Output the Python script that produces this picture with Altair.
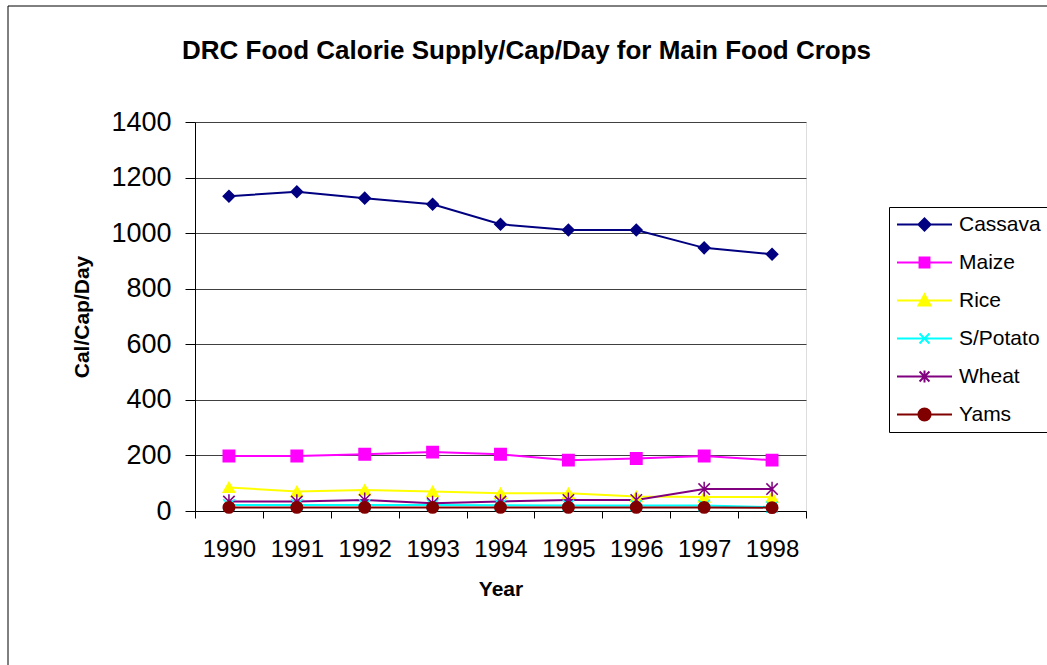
import altair as alt
import pandas as pd

years = ["1990", "1991", "1992", "1993", "1994", "1995", "1996", "1997", "1998"]
crops = ["Cassava", "Maize", "Rice", "S/Potato", "Wheat", "Yams"]
cassava = [1133, 1149, 1126, 1104, 1032, 1011, 1011, 947, 924]
maize = [198, 198, 204, 212, 204, 183, 189, 198, 183]
rice = [85, 70, 76, 70, 64, 64, 52, 50, 50]
s_potato = [22, 22, 22, 22, 21, 20, 20, 20, 14]
wheat = [34, 34, 40, 28, 34, 40, 40, 79, 79]
yams = [13, 13, 13, 13, 13, 13, 13, 13, 12]
colors = ["#000080", "#FF00FF", "#FFFF00", "#00FFFF", "#800080", "#800000"]

series = [cassava, maize, rice, s_potato, wheat, yams]
rows = []
for crop, vals in zip(crops, series):
    for y, v in zip(years, vals):
        rows.append({"Year": y, "Crop": crop, "Value": v})
df = pd.DataFrame(rows)

FONT = "Liberation Sans"

# marker shapes used in the plot
plot_shapes = [
    "diamond",
    "square",
    "triangle-up",
    "M-1,-1L1,1M1,-1L-1,1",
    "M-1,-1L1,1M1,-1L-1,1M0,-1.3L0,1.3",
    "circle",
]
# legend symbols: a line with the marker on it
m = 0.22
c = 0.18
legend_shapes = [
    f"M-1,0H1M0,-{m}L{m},0L0,{m}L-{m},0Z",
    f"M-1,0H1M-{c},-{c}H{c}V{c}H-{c}Z",
    f"M-1,0H1M0,-{m}L{m},{c}H-{m}Z",
    f"M-1,0H1M-{c},-{c}L{c},{c}M{c},-{c}L-{c},{c}",
    f"M-1,0H1M-{c},-{c}L{c},{c}M{c},-{c}L-{c},{c}M0,-{m}L0,{m}",
    f"M-1,0H1M-{m},0A{m},{m},0,1,1,{m},0A{m},{m},0,1,1,-{m},0Z",
]

x_enc = alt.X(
    "Year:O",
    sort=years,
    scale=alt.Scale(type="band", paddingInner=0, paddingOuter=0),
    axis=alt.Axis(
        title="Year",
        labelAngle=0,
        labelFont=FONT,
        labelFontSize=24,
        labelColor="black",
        labelPadding=19,
        tickSize=7,
        tickColor="black",
        tickBand="extent",
        domainColor="black",
        titleFont=FONT,
        titleFontSize=21,
        titleFontWeight="bold",
        titleColor="black",
        titlePadding=17,
        grid=False,
    ),
)
y_enc = alt.Y(
    "Value:Q",
    scale=alt.Scale(domain=[0, 1400], nice=False),
    axis=alt.Axis(
        title="Cal/Cap/Day",
        values=[0, 200, 400, 600, 800, 1000, 1200, 1400],
        format="d",
        labelFont=FONT,
        labelFontSize=27,
        labelColor="black",
        labelPadding=14,
        tickSize=10,
        tickColor="black",
        domainColor="black",
        titleFont=FONT,
        titleFontSize=21,
        titleFontWeight="bold",
        titleColor="black",
        titlePadding=18,
        grid=True,
        gridColor="#404040",
    ),
)


def color_scale():
    return alt.Scale(domain=crops, range=colors)


lines = alt.Chart(df).mark_line(strokeWidth=2).encode(
    x=x_enc,
    y=y_enc,
    stroke=alt.Stroke("Crop:N", scale=color_scale(), legend=None),
    detail="Crop:N",
)

points = alt.Chart(df).mark_point(filled=True, size=130, strokeWidth=1.5, opacity=1).encode(
    x=x_enc,
    y=y_enc,
    fill=alt.Fill("Crop:N", scale=color_scale(), legend=None),
    stroke=alt.Stroke("Crop:N", scale=color_scale(), legend=None),
    shape=alt.Shape("Crop:N", scale=alt.Scale(domain=crops, range=plot_shapes), legend=None),
)

leg = alt.Legend(
    title=None,
    orient="none",
    legendX=694,
    legendY=85,
    labelFont=FONT,
    labelFontSize=21,
    labelColor="black",
    strokeColor="black",
    fillColor="white",
    padding=7,
    rowPadding=16,
    symbolSize=3025,
    symbolStrokeWidth=2,
    symbolOpacity=1,
    clipHeight=21,
    labelOffset=6,
    labelLimit=300,
)

legend_layer = alt.Chart(df).transform_filter("datum.Value < 0").mark_point(
    filled=True, size=3025, strokeWidth=2, opacity=1
).encode(
    x=x_enc,
    y=y_enc,
    fill=alt.Fill("Crop:N", scale=color_scale(), legend=leg),
    stroke=alt.Stroke("Crop:N", scale=color_scale(), legend=leg),
    shape=alt.Shape("Crop:N", scale=alt.Scale(domain=crops, range=legend_shapes), legend=leg),
)

frame = alt.Chart(pd.DataFrame({"a": [0]})).mark_rect(
    fillOpacity=0, stroke="black", strokeWidth=1
).encode(
    x=alt.value(-187), x2=alt.value(880), y=alt.value(-116), y2=alt.value(570)
)

chart = alt.layer(frame, lines, points, legend_layer).resolve_scale(
    shape="independent", fill="independent", stroke="independent"
).properties(
    width=611,
    height=389,
    padding={"left": 195, "top": 122, "right": 241, "bottom": 154},
    autosize=alt.AutoSizeParams(type="none"),
    title=alt.TitleParams(
        "DRC Food Calorie Supply/Cap/Day for Main Food Crops",
        font=FONT,
        fontSize=26,
        fontWeight="bold",
        color="black",
        anchor="middle",
        dx=26,
        offset=-79,
        baseline="alphabetic",
    ),
).configure_view(
    fill="#C0C0C0", stroke="#808080", strokeWidth=2
).configure(background="white")

chart.save("out.html", embed_options={"renderer": "svg", "actions": False})
